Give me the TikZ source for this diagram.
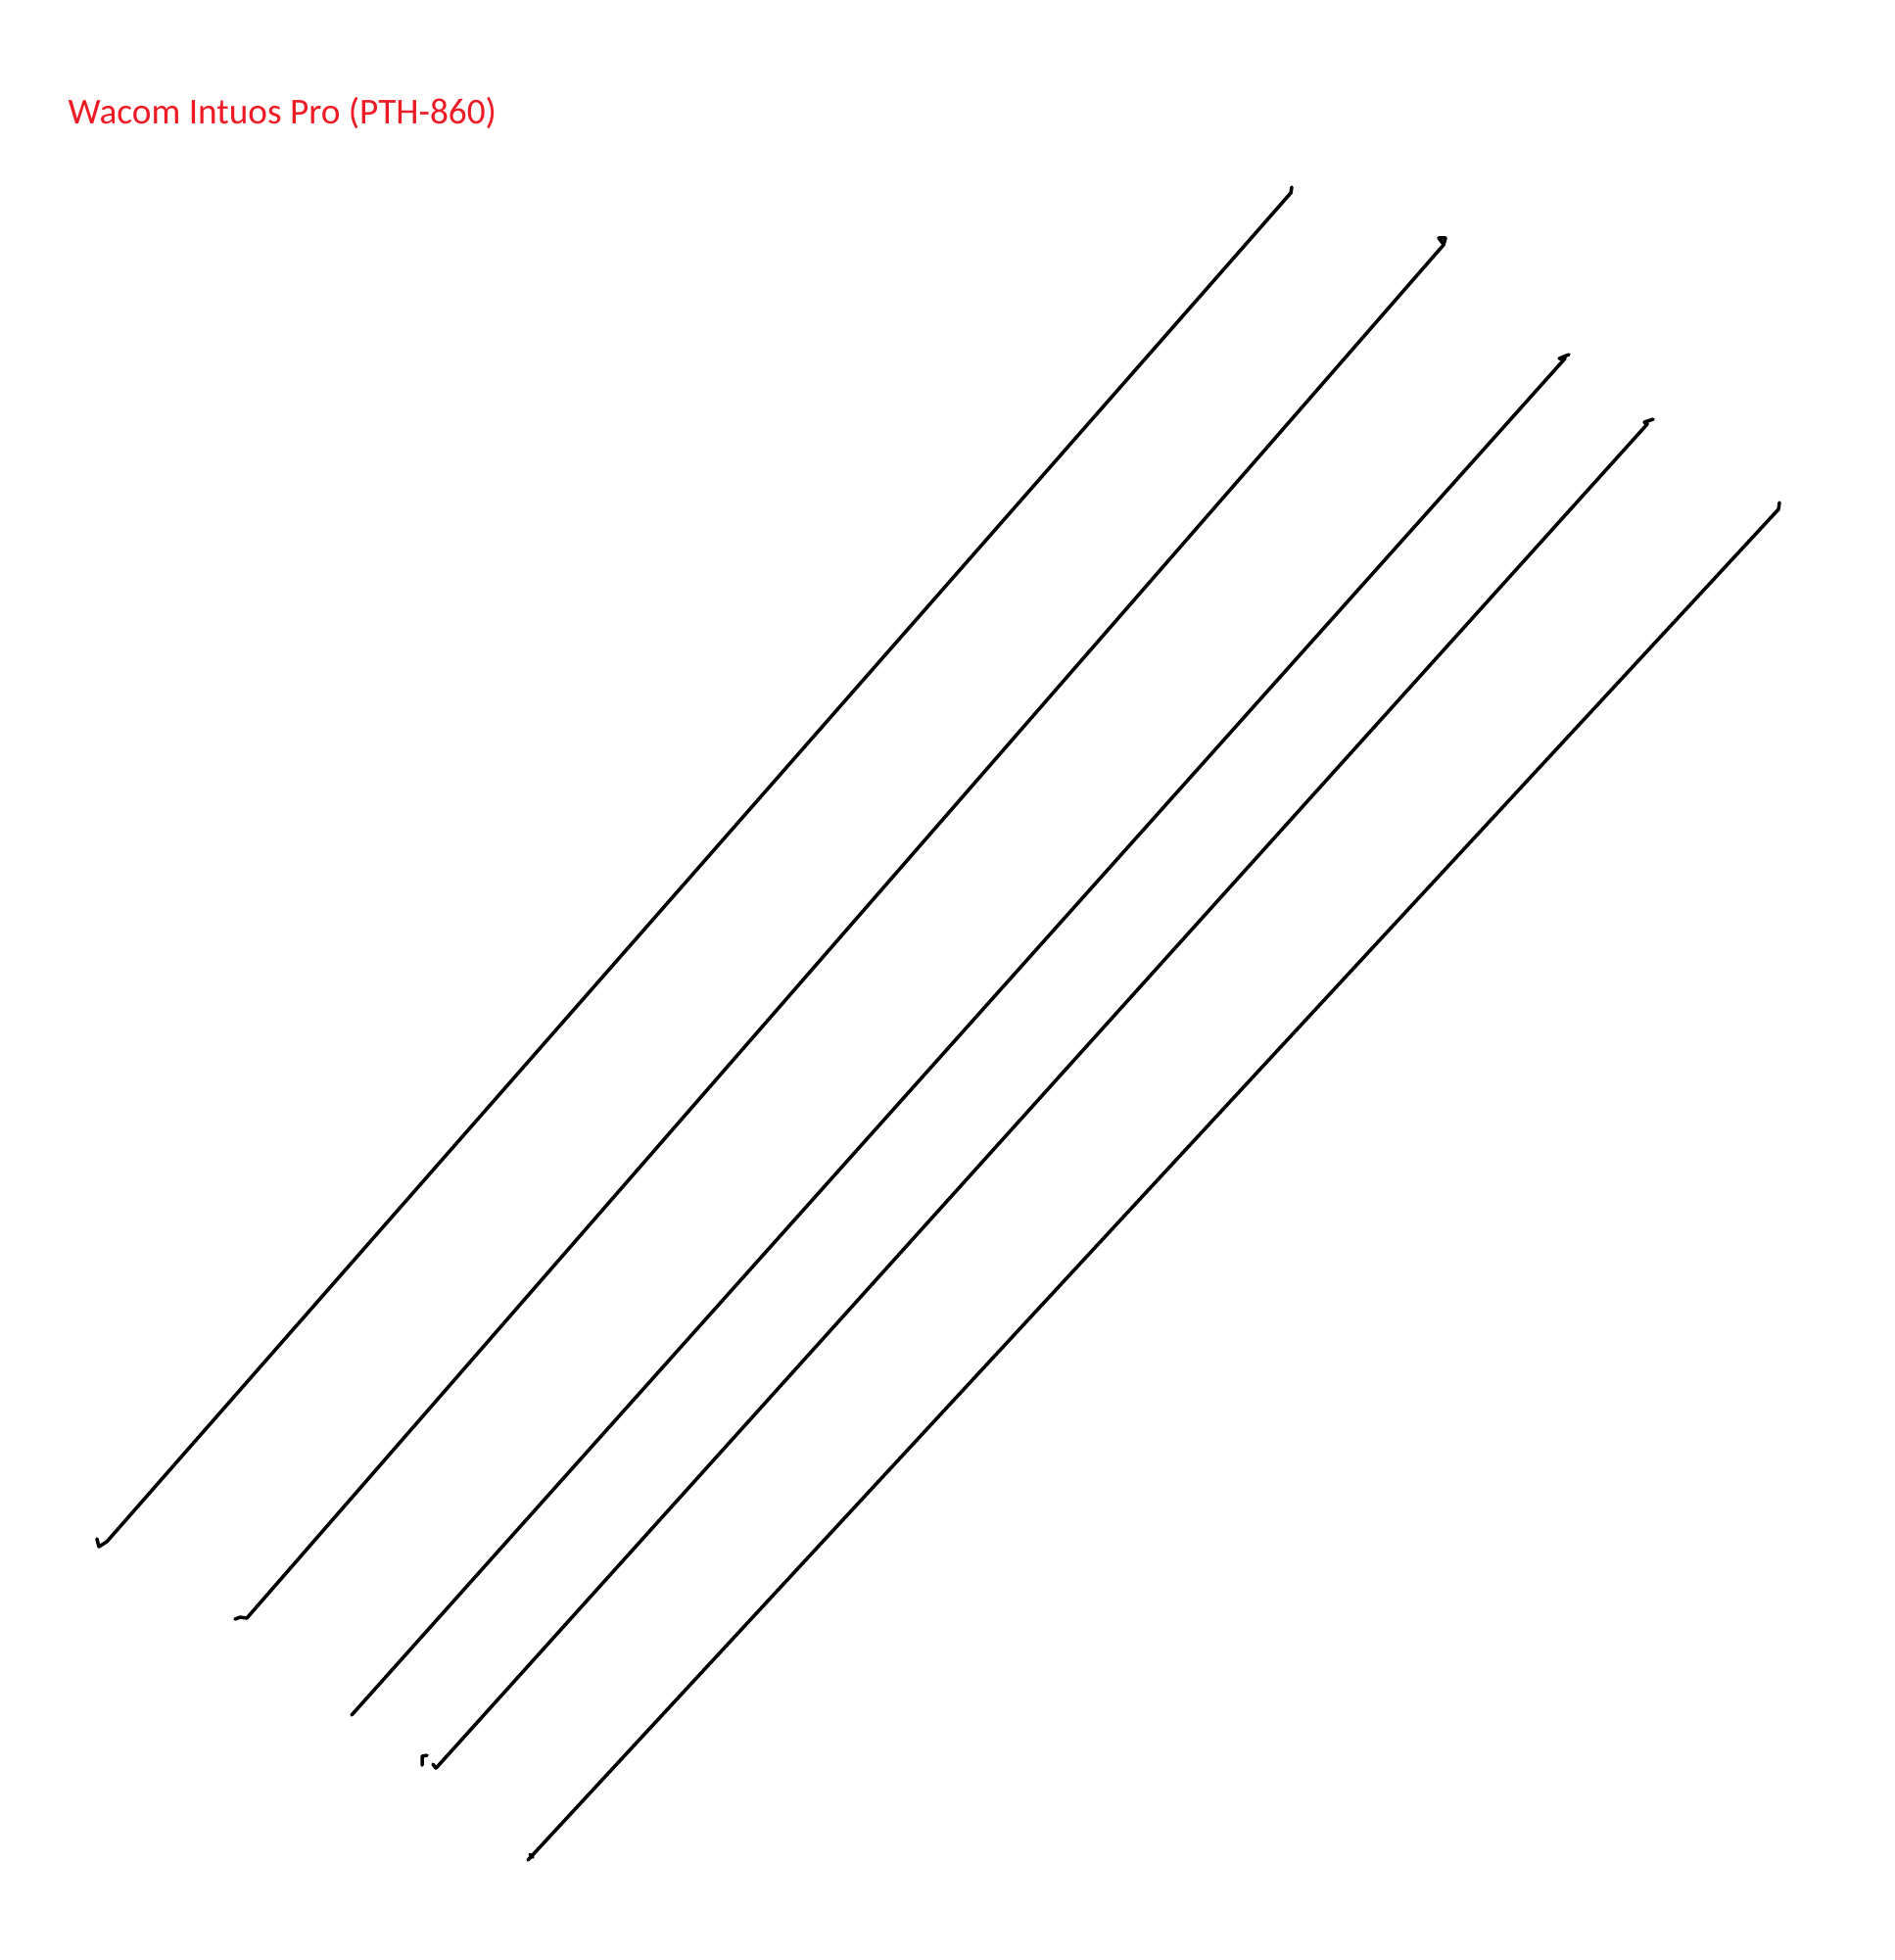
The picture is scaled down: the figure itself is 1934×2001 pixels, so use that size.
\documentclass[tikz,border=0pt]{standalone}
\usepackage{fontspec}
\setmainfont{Carlito}
\usepackage{tikz}
\definecolor{penred}{RGB}{237,28,36}

\begin{document}
\begin{tikzpicture}[x=0.01cm,y=-0.01cm,
    pen/.style={draw=black,line width=1pt,line cap=round,line join=round},
    title/.style={anchor=base west,inner sep=0pt,text=penred,font=\fontsize{10.6pt}{12.5pt}\selectfont}]
  \useasboundingbox (0,0) rectangle (1934,2001);
  \node[title] (T) at (69,127) {Wacom Intuos Pro (PTH-860)};
  % stroke ends
  \coordinate (S-1a) at (109,1574);
  \coordinate (S-1b) at (1318,197);
  \coordinate (S-2a) at (252,1652);
  \coordinate (S-2b) at (1474,250);
  \coordinate (S-3a) at (359,1751);
  \coordinate (S-3b) at (1598,366);
  \coordinate (S-4a) at (448,1802);
  \coordinate (S-4b) at (1682,433);
  \coordinate (S-5a) at (539,1899);
  \coordinate (S-5b) at (1816,520);
  \draw[pen] (99,1571) -- (101,1579) -- (S-1a) -- (S-1b) -- (1319,191);
  \draw[pen] (240,1653) -- (245,1651) -- (S-2a) -- (S-2b) -- (1476,243) -- (1469,243) -- (1473,248);
  \draw[pen] (S-3a) -- (S-3b) -- (1592,366) -- (1602,362);
  \draw[pen] (436,1792) -- (431,1793) -- (431,1802);
  \draw[pen] (442,1801) -- (445,1805) -- (S-4a) -- (S-4b) -- (1679,431) -- (1688,428);
  \draw[pen] (S-5a) -- (S-5b) -- (1817,513);
  \draw[pen] (541,1893) -- (544,1896);
\end{tikzpicture}
\end{document}
